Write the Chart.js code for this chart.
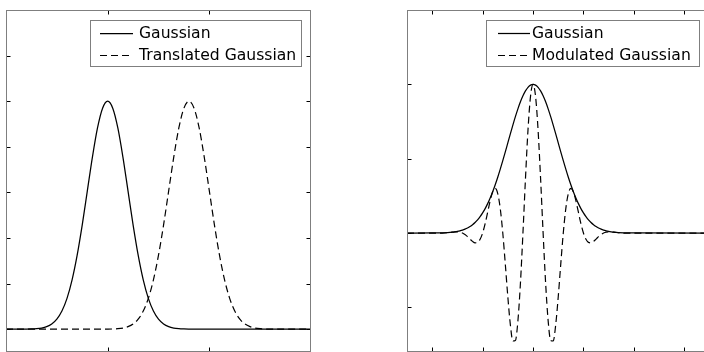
<!DOCTYPE html>
<html>
<head>
<meta charset="utf-8">
<script src="https://cdn.jsdelivr.net/npm/chart.js@4.4.1/dist/chart.umd.min.js"></script>
<style>
  html, body { margin: 0; padding: 0; background: #fff; overflow: hidden; width: 704px; height: 352px; }
  canvas { position: absolute; top: 0; }
  #left { left: 0; }
  #right { left: 400px; }
</style>
</head>
<body>
<canvas id="left" width="330" height="370"></canvas>
<canvas id="right" width="330" height="370"></canvas>
<script>
// ---- Left panel: a Gaussian pulse and the same pulse shifted to the right ----
const leftX = [
  -1, -0.95, -0.9, -0.85, -0.8, -0.75, -0.7, -0.65, -0.6, -0.55,
  -0.5, -0.45, -0.4, -0.35, -0.3, -0.25, -0.2, -0.15, -0.1, -0.05,
  0, 0.05, 0.1, 0.15, 0.2, 0.25, 0.3, 0.35, 0.4, 0.45,
  0.5, 0.55, 0.6, 0.65, 0.7, 0.75, 0.8, 0.85, 0.9, 0.95,
  1, 1.05, 1.1, 1.15, 1.2, 1.25, 1.3, 1.35, 1.4, 1.45,
  1.5, 1.55, 1.6, 1.65, 1.7, 1.75, 1.8, 1.85, 1.9, 1.95, 2
];
const gaussianLeft = [
  0, 0, 0, 0, 0.0003, 0.0009, 0.0022, 0.0051, 0.0111, 0.0228,
  0.0439, 0.0796, 0.1353, 0.2163, 0.3247, 0.4578, 0.6065, 0.7548, 0.8825, 0.9692,
  1, 0.9692, 0.8825, 0.7548, 0.6065, 0.4578, 0.3247, 0.2163, 0.1353, 0.0796,
  0.0439, 0.0228, 0.0111, 0.0051, 0.0022, 0.0009, 0.0003, 0, 0, 0,
  0, 0, 0, 0, 0, 0, 0, 0, 0, 0,
  0, 0, 0, 0, 0, 0, 0, 0, 0, 0, 0
];
const translatedGaussian = [
  0, 0, 0, 0, 0, 0, 0, 0, 0, 0,
  0, 0, 0, 0, 0, 0, 0, 0, 0, 0,
  0.0003, 0.0009, 0.0022, 0.0051, 0.0111, 0.0228, 0.0439, 0.0796, 0.1353, 0.2163,
  0.3247, 0.4578, 0.6065, 0.7548, 0.8825, 0.9692, 1, 0.9692, 0.8825, 0.7548,
  0.6065, 0.4578, 0.3247, 0.2163, 0.1353, 0.0796, 0.0439, 0.0228, 0.0111, 0.0051,
  0.0022, 0.0009, 0.0003, 0, 0, 0, 0, 0, 0, 0, 0
];
const leftXTicks = [0, 1];
const leftYTicks = [0, 0.2, 0.4, 0.6, 0.8, 1.0, 1.2];
const leftLabels = ['Gaussian', 'Translated Gaussian'];

// ---- Right panel: a wider Gaussian envelope and a cosine-modulated copy ----
const rightX = [
  -2.5, -2.0, -1.8,
  -1.6, -1.55, -1.5, -1.45, -1.4, -1.35, -1.3, -1.25, -1.2, -1.15,
  -1.1, -1.05, -1, -0.95, -0.9, -0.85, -0.8, -0.75, -0.7, -0.65,
  -0.6, -0.55, -0.5, -0.45, -0.4, -0.35, -0.3, -0.25, -0.2, -0.15,
  -0.1, -0.05, 0, 0.05, 0.1, 0.15, 0.2, 0.25, 0.3, 0.35,
  0.4, 0.45, 0.5, 0.55, 0.6, 0.65, 0.7, 0.75, 0.8, 0.85,
  0.9, 0.95, 1, 1.05, 1.1, 1.15, 1.2, 1.25, 1.3, 1.35,
  1.4, 1.45, 1.5, 1.55, 1.6,
  1.8, 2.0, 3.6
];
const gaussianRight = [
  0, 0.0003, 0.0015,
  0.0060, 0.0082, 0.0111, 0.0149, 0.0198, 0.0261, 0.0340, 0.0439, 0.0561, 0.0710,
  0.0889, 0.1103, 0.1353, 0.1645, 0.1979, 0.2357, 0.2780, 0.3247, 0.3753, 0.4296,
  0.4868, 0.5461, 0.6065, 0.6670, 0.7261, 0.7827, 0.8353, 0.8825, 0.9231, 0.9560,
  0.9802, 0.9950, 1, 0.9950, 0.9802, 0.9560, 0.9231, 0.8825, 0.8353, 0.7827,
  0.7261, 0.6670, 0.6065, 0.5461, 0.4868, 0.4296, 0.3753, 0.3247, 0.2780, 0.2357,
  0.1979, 0.1645, 0.1353, 0.1103, 0.0889, 0.0710, 0.0561, 0.0439, 0.0340, 0.0261,
  0.0198, 0.0149, 0.0111, 0.0082, 0.0060,
  0.0015, 0.0003, 0
];
const modulatedGaussian = [
  0, 0, 0,
  0.0060, 0.0076, 0.0078, 0.0057, 0, -0.0100, -0.0240, -0.0406, -0.0561, -0.0656,
  -0.0629, -0.0422, 0, 0.0630, 0.1399, 0.2178, 0.2780, 0.3000, 0.2654, 0.1644,
  0, -0.2090, -0.4289, -0.6162, -0.7261, -0.7231, -0.5906, -0.3377, 0, 0.3659,
  0.6931, 0.9193, 1, 0.9193, 0.6931, 0.3659, 0, -0.3377, -0.5906, -0.7231,
  -0.7261, -0.6162, -0.4289, -0.2090, 0, 0.1644, 0.2654, 0.3000, 0.2780, 0.2178,
  0.1399, 0.0630, 0, -0.0422, -0.0629, -0.0656, -0.0561, -0.0406, -0.0240, -0.0100,
  0, 0.0057, 0.0078, 0.0076, 0.0060,
  0, 0, 0
];
const rightXTicks = [-2, -1, 0, 1, 2, 3];
const rightYTicks = [-0.5, 0, 0.5, 1.0];
const rightLabels = ['Gaussian', 'Modulated Gaussian'];

const FONT = '15.6px "DejaVu Sans", sans-serif';
const DASH = [7, 4];

function points(xs, ys) {
  return xs.map((x, i) => ({ x: x, y: ys[i] }));
}

// Axes box in grey with short black ticks pointing inwards on all four sides.
const framePlugin = {
  id: 'frame',
  afterDatasetsDraw(chart, args, opts) {
    const { ctx, chartArea: a, scales } = chart;
    const L = Math.round(a.left) + 0.5, R = Math.round(a.right) - 0.5;
    const T = Math.round(a.top) + 0.5, B = Math.round(a.bottom) - 0.5;
    const len = 4;
    ctx.save();
    ctx.lineWidth = 1;
    ctx.strokeStyle = '#000';
    ctx.beginPath();
    opts.xTicks.forEach(v => {
      const px = Math.round(scales.x.getPixelForValue(v)) + 0.5;
      ctx.moveTo(px, B); ctx.lineTo(px, B - len);
      ctx.moveTo(px, T); ctx.lineTo(px, T + len);
    });
    opts.yTicks.forEach(v => {
      const py = Math.round(scales.y.getPixelForValue(v)) + 0.5;
      ctx.moveTo(L, py); ctx.lineTo(L + len, py);
      ctx.moveTo(R, py); ctx.lineTo(R - len, py);
    });
    ctx.stroke();
    ctx.strokeStyle = '#7f7f7f';
    ctx.strokeRect(L, T, R - L, B - T);
    ctx.restore();
  }
};

// Boxed legend in the upper right corner of each panel.
const boxLegendPlugin = {
  id: 'boxLegend',
  afterDraw(chart, args, opts) {
    const { ctx } = chart;
    const b = opts.box;
    ctx.save();
    ctx.fillStyle = '#fff';
    ctx.fillRect(b.x, b.y, b.w, b.h);
    ctx.strokeStyle = '#7f7f7f';
    ctx.lineWidth = 1;
    ctx.strokeRect(b.x + 0.5, b.y + 0.5, b.w, b.h);
    ctx.font = FONT;
    ctx.textBaseline = 'middle';
    ctx.fillStyle = '#000';
    chart.data.datasets.forEach((ds, i) => {
      const y = b.y + opts.rows[i];
      ctx.beginPath();
      ctx.strokeStyle = '#000';
      ctx.lineWidth = ds.borderWidth;
      ctx.setLineDash(ds.borderDash || []);
      ctx.moveTo(b.x + opts.lineFrom, y + 0.5);
      ctx.lineTo(b.x + opts.lineTo, y + 0.5);
      ctx.stroke();
      ctx.setLineDash([]);
      ctx.fillText(ds.label, b.x + opts.textAt, y + 1);
    });
    ctx.restore();
  }
};

function makeChart(id, cfg) {
  return new Chart(document.getElementById(id), {
    type: 'line',
    data: {
      datasets: [
        {
          label: cfg.labels[0],
          data: points(cfg.xs, cfg.solid),
          borderColor: '#000',
          borderWidth: 1.25,
          pointRadius: 0,
          cubicInterpolationMode: 'monotone',
          fill: false
        },
        {
          label: cfg.labels[1],
          data: points(cfg.xs, cfg.dashed),
          borderColor: '#000',
          borderWidth: 1.2,
          borderDash: DASH,
          pointRadius: 0,
          cubicInterpolationMode: 'monotone',
          fill: false
        }
      ]
    },
    options: {
      responsive: false,
      animation: false,
      events: [],
      layout: { padding: cfg.padding },
      scales: {
        x: { type: 'linear', display: false, min: cfg.xMin, max: cfg.xMax },
        y: { type: 'linear', display: false, min: cfg.yMin, max: cfg.yMax }
      },
      plugins: {
        legend: { display: false },
        tooltip: { enabled: false },
        frame: { xTicks: cfg.xTicks, yTicks: cfg.yTicks },
        boxLegend: cfg.legend
      }
    },
    plugins: [framePlugin, boxLegendPlugin]
  });
}

makeChart('left', {
  xs: leftX, solid: gaussianLeft, dashed: translatedGaussian, labels: leftLabels,
  xMin: -1, xMax: 2, yMin: -0.1, yMax: 1.4,
  xTicks: leftXTicks, yTicks: leftYTicks,
  padding: { left: 6, top: 10, right: 19, bottom: 18 },
  legend: { box: { x: 90, y: 20, w: 211, h: 46 }, rows: [13, 35], lineFrom: 10, lineTo: 43, textAt: 49 }
});

makeChart('right', {
  xs: rightX, solid: gaussianRight, dashed: modulatedGaussian, labels: rightLabels,
  xMin: -2.5, xMax: 3.55, yMin: -0.8, yMax: 1.5,
  xTicks: rightXTicks, yTicks: rightYTicks,
  padding: { left: 7, top: 10, right: 18, bottom: 18 },
  legend: { box: { x: 86, y: 20, w: 213, h: 46 }, rows: [13, 35], lineFrom: 12, lineTo: 44, textAt: 46 }
});
</script>
</body>
</html>
